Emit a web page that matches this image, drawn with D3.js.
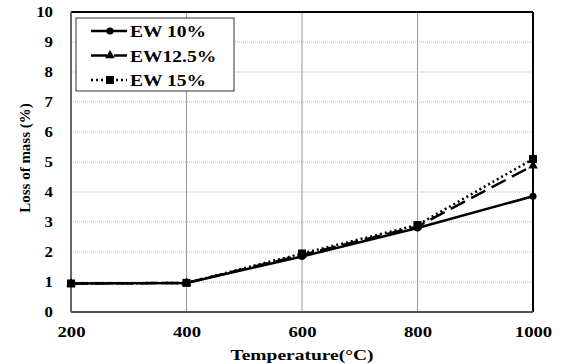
<!DOCTYPE html>
<html>
<head>
<meta charset="utf-8">
<script src="https://cdn.jsdelivr.net/npm/d3@7"></script>
<style>
  body { margin: 0; background: #fff; }
  svg { display: block; }
  text { font-family: "Liberation Serif", "Times New Roman", serif; }
</style>
</head>
<body>
<svg width="563" height="364"></svg>
<script>
// data
var temps = [200, 400, 600, 800, 1000];
var ew10 = [0.95, 0.97, 1.85, 2.8, 3.86];
var ew125 = [0.95, 0.97, 1.9, 2.85, 4.88];
var ew15 = [0.95, 0.97, 1.95, 2.9, 5.1];
var seriesNames = ["EW 10%", "EW12.5%", "EW 15%"];
var yTicks = [0, 1, 2, 3, 4, 5, 6, 7, 8, 9, 10];

var svg = d3.select("svg");
var pLeft = 71, pRight = 533, pTop = 12, pBottom = 312;
var stretch = 1.2; // the reference text is drawn a bit wide

var x = d3.scaleLinear().domain([200, 1000]).range([pLeft, pRight]);
var y = d3.scaleLinear().domain([0, 10]).range([pBottom, pTop]);

// horizontal grid
svg.append("g").selectAll("line")
    .data(yTicks.slice(1, -1))
    .enter().append("line")
    .attr("x1", pLeft).attr("x2", pRight)
    .attr("y1", function(d) { return y(d); })
    .attr("y2", function(d) { return y(d); })
    .attr("stroke", "#b5b5b5")
    .attr("stroke-width", 1)
    .attr("stroke-dasharray", "1,1");

// vertical grid
svg.append("g").selectAll("line")
    .data(temps.slice(1, -1))
    .enter().append("line")
    .attr("x1", function(d) { return x(d); })
    .attr("x2", function(d) { return x(d); })
    .attr("y1", pTop).attr("y2", pBottom)
    .attr("stroke", "#999")
    .attr("stroke-width", 1);

// frame
svg.append("line").attr("x1", pLeft).attr("x2", pRight).attr("y1", pTop).attr("y2", pTop)
    .attr("stroke", "#000").attr("stroke-width", 2);
svg.append("line").attr("x1", pRight).attr("x2", pRight).attr("y1", pTop).attr("y2", pBottom)
    .attr("stroke", "#000").attr("stroke-width", 2);
svg.append("line").attr("x1", pLeft).attr("x2", pLeft).attr("y1", pTop).attr("y2", pBottom)
    .attr("stroke", "#666").attr("stroke-width", 2);
svg.append("line").attr("x1", pLeft).attr("x2", pRight).attr("y1", pBottom).attr("y2", pBottom)
    .attr("stroke", "#555").attr("stroke-width", 2);

// axes
var yAxis = svg.append("g")
    .attr("transform", "translate(" + pLeft + ",0)")
    .call(d3.axisLeft(y).tickValues(yTicks).tickSize(0).tickPadding(18));
yAxis.select(".domain").remove();
yAxis.selectAll("text")
    .attr("font-family", "Liberation Serif")
    .attr("font-size", 15)
    .attr("font-weight", "bold")
    .attr("fill", "#000")
    .attr("x", -18 / 1.12)
    .attr("transform", "scale(1.12,1)");

var xAxis = svg.append("g")
    .attr("transform", "translate(0," + pBottom + ")")
    .call(d3.axisBottom(x).tickValues(temps).tickFormat(d3.format("d")).tickSize(0).tickPadding(14));
xAxis.select(".domain").remove();
xAxis.selectAll("text")
    .attr("font-family", "Liberation Serif")
    .attr("font-size", 15)
    .attr("font-weight", "bold")
    .attr("fill", "#000")
    .attr("transform", "scale(1.25,1)");

svg.append("text")
    .attr("transform", "translate(" + ((pLeft + pRight) / 2) + ",360) scale(1.3,1)")
    .attr("text-anchor", "middle")
    .attr("font-size", 15)
    .attr("font-weight", "bold")
    .text("Temperature(°C)");

svg.append("text")
    .attr("transform", "translate(30,158) rotate(-90)")
    .attr("text-anchor", "middle")
    .attr("font-size", 15)
    .attr("font-weight", "bold")
    .text("Loss of mass (%)");

// series
var series = [
    { name: seriesNames[0], values: ew10, dash: null, marker: d3.symbolCircle, size: 40 },
    { name: seriesNames[1], values: ew125, dash: "16,7", marker: d3.symbolTriangle, size: 40 },
    { name: seriesNames[2], values: ew15, dash: "2,3", marker: d3.symbolSquare, size: 64 }
];

var line = d3.line()
    .x(function(d, i) { return x(temps[i]); })
    .y(function(d) { return y(d); });

series.forEach(function(s) {
    svg.append("path")
        .datum(s.values)
        .attr("d", line)
        .attr("fill", "none")
        .attr("stroke", "#000")
        .attr("stroke-width", 2.5)
        .attr("stroke-dasharray", s.dash);
    svg.append("g").selectAll("path")
        .data(s.values)
        .enter().append("path")
        .attr("transform", function(d, i) { return "translate(" + x(temps[i]) + "," + y(d) + ")"; })
        .attr("d", d3.symbol().type(s.marker).size(s.size))
        .attr("fill", "#000");
});

// legend
var lg = svg.append("g");
lg.append("rect")
    .attr("x", 76).attr("y", 18)
    .attr("width", 158).attr("height", 73)
    .attr("fill", "#fff")
    .attr("stroke", "#333")
    .attr("stroke-width", 1);

series.forEach(function(s, i) {
    var ly = 31 + i * 24.5;
    lg.append("line")
        .attr("x1", 91).attr("x2", 127)
        .attr("y1", ly).attr("y2", ly)
        .attr("stroke", "#000")
        .attr("stroke-width", 2.5)
        .attr("stroke-dasharray", s.dash);
    lg.append("path")
        .attr("transform", "translate(" + 110 + "," + ly + ")")
        .attr("d", d3.symbol().type(s.marker).size(s.size))
        .attr("fill", "#000");
    lg.append("text")
        .attr("transform", "translate(130," + (ly + 6) + ") scale(1.15,1)")
        .attr("font-size", 17)
        .attr("font-weight", "bold")
        .text(s.name);
});
</script>
</body>
</html>
